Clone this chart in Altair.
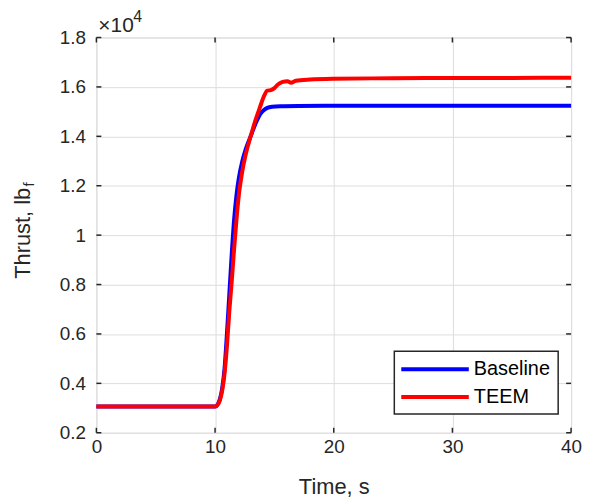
import altair as alt
import pandas as pd

# ---- data ----
time_baseline = [0, 5, 10, 10.2, 10.4, 10.6, 10.8, 11.0, 11.2, 11.4, 11.6, 11.8, 12.0,
                 12.3, 12.6, 13.0, 13.4, 13.8, 14.1, 14.4, 14.8, 15.5, 17, 20, 25, 30, 35, 40]
thrust_baseline = [3060, 3060, 3060, 3130, 3350, 3800, 4600, 6000, 7600, 9200, 10600, 11600, 12300,
                   13000, 13500, 14000, 14500, 14900, 15060, 15150, 15200, 15220, 15230, 15235,
                   15240, 15240, 15240, 15240]

time_teem = [0, 5, 10, 10.2, 10.4, 10.6, 10.8, 11.0, 11.2, 11.4, 11.6, 11.8, 12.0, 12.3, 12.6,
             13.0, 13.4, 13.8, 14.1, 14.4, 14.7, 15.0, 15.3, 15.7, 16.1, 16.4, 16.8, 18, 20,
             25, 30, 35, 40]
thrust_teem = [3060, 3060, 3060, 3120, 3300, 3700, 4400, 5500, 6900, 8100, 9400, 10600, 11600,
               12600, 13300, 14000, 14650, 15200, 15600, 15850, 15870, 15950, 16100, 16200,
               16230, 16170, 16250, 16300, 16330, 16350, 16360, 16365, 16370]

series_names = ["Baseline", "TEEM"]
series_colors = ["#0000ff", "#ff0000"]
x_ticks = [0, 10, 20, 30, 40]
y_ticks = [2000, 4000, 6000, 8000, 10000, 12000, 14000, 16000, 18000]
x_title = "Time, s"
y_title_main = "Thrust, lb"
y_title_sub = "f"
exp_base = "\u00d710"
exp_power = "4"

W, H = 478, 398
AX = "#262626"
FONT = "Liberation Sans"

xs = alt.Scale(domain=[0, 40], nice=False, zero=False)
ys = alt.Scale(domain=[2000, 18000], nice=False, zero=False)
x_axis = alt.Axis(values=x_ticks, title=x_title, grid=True, ticks=False, domain=False,
                  labelFlush=False, labelPadding=5, titlePadding=20, labelFontSize=19,
                  titleFontSize=22, titleFontWeight="normal", titleFont=FONT, labelFont=FONT,
                  labelColor=AX, titleColor=AX)
y_axis = alt.Axis(values=y_ticks, title=None, grid=True, ticks=False, domain=False,
                  labelFlush=False, labelPadding=11, labelFontSize=19, labelFont=FONT,
                  labelColor=AX, labelExpr="datum.value/10000 + ''")

df_b = pd.DataFrame({"t": time_baseline, "v": thrust_baseline})
df_t = pd.DataFrame({"t": time_teem, "v": thrust_teem})

base_line = alt.Chart(df_b).mark_line(strokeWidth=4, interpolate="monotone", color=series_colors[0]).encode(
    x=alt.X("t:Q", scale=xs, axis=x_axis),
    y=alt.Y("v:Q", scale=ys, axis=y_axis),
)
teem_line = alt.Chart(df_t).mark_line(strokeWidth=4, interpolate="monotone", color=series_colors[1]).encode(
    x=alt.X("t:Q", scale=xs, axis=x_axis),
    y=alt.Y("v:Q", scale=ys, axis=y_axis),
)

xt = pd.DataFrame({"t": x_ticks})
yt = pd.DataFrame({"v": y_ticks})
tick_style = dict(color=AX, strokeWidth=1.5)
tick_len = 5
bottom_ticks = alt.Chart(xt).mark_rule(**tick_style).encode(
    x=alt.X("t:Q", scale=xs, axis=x_axis), y=alt.value(H), y2=alt.value(H - tick_len))
top_ticks = alt.Chart(xt).mark_rule(**tick_style).encode(
    x=alt.X("t:Q", scale=xs, axis=x_axis), y=alt.value(0), y2=alt.value(tick_len))
left_ticks = alt.Chart(yt).mark_rule(**tick_style).encode(
    y=alt.Y("v:Q", scale=ys, axis=y_axis), x=alt.value(0), x2=alt.value(tick_len))
right_ticks = alt.Chart(yt).mark_rule(**tick_style).encode(
    y=alt.Y("v:Q", scale=ys, axis=y_axis), x=alt.value(W - tick_len), x2=alt.value(W))

one = pd.DataFrame({"a": [0]})

# y-axis title with subscript
ytitle = alt.Chart(pd.DataFrame({"s": [y_title_main]})).mark_text(
    angle=270, align="left", baseline="alphabetic", fontSize=22, font=FONT, color=AX).encode(
    text="s:N", x=alt.value(-67), y=alt.value(243))
ytitle_sub = alt.Chart(pd.DataFrame({"s": [y_title_sub]})).mark_text(
    angle=270, align="left", baseline="alphabetic", fontSize=15, font=FONT, color=AX).encode(
    text="s:N", x=alt.value(-63), y=alt.value(150))

# x10^4 exponent label
exp1 = alt.Chart(pd.DataFrame({"s": [exp_base]})).mark_text(
    align="left", baseline="alphabetic", fontSize=21, font=FONT, color=AX).encode(
    text="s:N", x=alt.value(2), y=alt.value(-6))
exp2 = alt.Chart(pd.DataFrame({"s": [exp_power]})).mark_text(
    align="left", baseline="alphabetic", fontSize=16, font=FONT, color=AX).encode(
    text="s:N", x=alt.value(37), y=alt.value(-16))

# legend box
lx0, lx1, ly0, ly1 = 300, 465, 316, 379
leg_box = alt.Chart(one).mark_rect(fill="white", stroke=AX, strokeWidth=1.5).encode(
    x=alt.value(lx0), x2=alt.value(lx1), y=alt.value(ly0), y2=alt.value(ly1))
leg_layers = []
row_y = [334, 362]
for name, col, yy in zip(series_names, series_colors, row_y):
    d = pd.DataFrame({"s": [name]})
    leg_layers.append(alt.Chart(d).mark_rule(color=col, strokeWidth=4).encode(
        x=alt.value(307), x2=alt.value(375), y=alt.value(yy)))
    leg_layers.append(alt.Chart(d).mark_text(align="left", baseline="middle", fontSize=20,
                                             font=FONT, color="black").encode(
        text="s:N", x=alt.value(380), y=alt.value(yy)))

chart = alt.layer(
    base_line, teem_line, bottom_ticks, top_ticks, left_ticks, right_ticks,
    ytitle, ytitle_sub, exp1, exp2, leg_box, *leg_layers
).properties(
    width=W, height=H,
    autosize=alt.AutoSizeParams(type="none"),
    padding={"left": 89, "top": 28, "right": 12, "bottom": 66},
).configure_view(
    stroke=AX, strokeWidth=1.5
).configure_axis(
    labelFont=FONT, titleFont=FONT, labelColor=AX, titleColor=AX,
    gridColor="#dfdfdf", gridWidth=1, titleFontWeight="normal"
).configure(background="white")

chart.save("out.html", embed_options={"renderer": "svg", "actions": False})
